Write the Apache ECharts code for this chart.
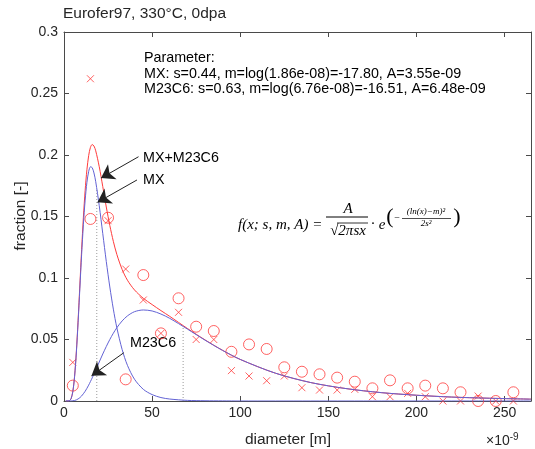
<!DOCTYPE html>
<html><head><meta charset="utf-8">
<script src="https://cdn.jsdelivr.net/npm/echarts@6/dist/echarts.min.js"></script>
<style>html,body{margin:0;padding:0;background:#fff}#c{width:535px;height:449px}</style>
</head><body><div id="c"></div>
<script>
// ---- data ----
const markerX = [5,15,25,35,45,55,65,75,85,95,105,115,125,135,145,155,165,175,185,195,205,215,225,235,245,255];
const circleY = [0.0125,0.148,0.149,0.0176,0.1024,0.055,0.0835,0.0604,0.0569,0.040,0.046,0.0423,0.0274,0.0238,0.0217,0.019,0.0157,0.0103,0.0168,0.0103,0.0125,0.0103,0.0071,0.0,0.0,0.0071];
const crossY  = [0.0314,0.262,0.1466,0.1073,0.0821,0.055,0.0721,0.050,0.050,0.0247,0.0203,0.0165,0.0203,0.0108,0.0089,0.0089,0.0095,0.0035,0.0035,0.0062,0.0035,0,0,0.004,0,0];
const curveX  = [1,2,3,4,5,6,7,8,9,10,11,12,13,14,15,16,17,18,20,22,24,26,28,30,33,36,40,45,50,55,60,70,80,90,100,120,140,160,180,200,220,240,265];
const mxY     = [0,0,0.0002,0.0018,0.0075,0.0197,0.0390,0.0639,0.0916,0.1190,0.1434,0.1633,0.1777,0.1866,0.1904,0.1897,0.1854,0.1783,0.1588,0.1361,0.1134,0.0927,0.0747,0.0595,0.0418,0.0290,0.0177,0.0095,0.0052,0.0028,0.0016,0.0005,0.0002,0.0001,0,0,0,0,0,0,0,0,0];
const m23Y    = [0,0,0,0,0.0002,0.0004,0.0009,0.0017,0.0027,0.0041,0.0059,0.0079,0.0103,0.0129,0.0158,0.0188,0.0219,0.0251,0.0317,0.0382,0.0443,0.0500,0.0551,0.0596,0.0651,0.0692,0.0726,0.0740,0.0732,0.0707,0.0672,0.0585,0.0495,0.0411,0.0338,0.0226,0.0150,0.0101,0.0068,0.0047,0.0032,0.0023,0.0015];
const sumY    = [0,0,0.0002,0.0018,0.0077,0.0201,0.0399,0.0656,0.0943,0.1231,0.1493,0.1712,0.1880,0.1995,0.2062,0.2085,0.2073,0.2034,0.1905,0.1743,0.1577,0.1427,0.1298,0.1191,0.1069,0.0982,0.0903,0.0835,0.0784,0.0735,0.0688,0.0590,0.0497,0.0412,0.0338,0.0226,0.0150,0.0101,0.0068,0.0047,0.0032,0.0023,0.0015];
const medianX = [18.6, 67.6];
const medianY = [0.1731, 0.0607];
const xTicks = [0,50,100,150,200,250];
const yTicks = [0,0.05,0.1,0.15,0.2,0.25,0.3];

const RED = '#ff3b3b', BLUE = '#6262d4', AX = '#4a4a4a', TXT = '#262626';
const SANS = '"Liberation Sans", Arial, sans-serif';
const SERIF = '"Liberation Serif", "Times New Roman", serif';
const zip = (a, b) => a.map((v, i) => [v, b[i]]);

const chart = echarts.init(document.getElementById('c'), null, {renderer: 'canvas'});
const axisCommon = {
  type: 'value', splitLine: {show: false},
  axisLine: {show: true, onZero: false, lineStyle: {color: AX, width: 1}},
  axisTick: {show: true, inside: true, length: 5, lineStyle: {color: AX}},
};
const option = {
  animation: false,
  backgroundColor: '#fff',
  grid: {left: 64, right: 4, top: 32, bottom: 48},
  xAxis: [
    Object.assign({}, axisCommon, {min: 0, max: 265, interval: 50, position: 'bottom',
      axisLabel: {color: TXT, fontSize: 14, fontFamily: SANS, margin: 5,
        formatter: v => xTicks.includes(v) ? String(v) : ''}}),
    Object.assign({}, axisCommon, {min: 0, max: 265, interval: 50, position: 'top', axisLabel: {show: false}})
  ],
  yAxis: [
    Object.assign({}, axisCommon, {min: 0, max: 0.3, interval: 0.05, position: 'left',
      axisLabel: {color: TXT, fontSize: 14, fontFamily: SANS, margin: 6,
        formatter: v => String(+v.toFixed(2))}}),
    Object.assign({}, axisCommon, {min: 0, max: 0.3, interval: 0.05, position: 'right', axisLabel: {show: false}})
  ],
  series: [
    {type: 'scatter', name: 'circles', data: zip(markerX, circleY), symbol: 'circle', symbolSize: 11,
      itemStyle: {color: 'rgba(0,0,0,0)', borderColor: RED, borderWidth: 1}, z: 3},
    {type: 'scatter', name: 'crosses', data: zip(markerX, crossY), symbol: 'path://M0,0L10,10M10,0L0,10', symbolSize: 7,
      itemStyle: {color: 'none', borderColor: RED, borderWidth: 1}, z: 3},
    {type: 'line', name: 'dot1', data: [[medianX[0], 0], [medianX[0], medianY[0]]], showSymbol: false,
      lineStyle: {color: '#9a9a9a', width: 1, type: [1, 2]}, z: 2},
    {type: 'line', name: 'dot2', data: [[medianX[1], 0], [medianX[1], medianY[1]]], showSymbol: false,
      lineStyle: {color: '#9a9a9a', width: 1, type: [1, 2]}, z: 2},
    {type: 'line', name: 'MX+M23C6', data: zip(curveX, sumY), showSymbol: false, smooth: 0.3,
      lineStyle: {color: RED, width: 1}, z: 4},
    {type: 'line', name: 'MX', data: zip(curveX, mxY), showSymbol: false, smooth: 0.3,
      lineStyle: {color: BLUE, width: 1}, z: 4},
    {type: 'line', name: 'M23C6', data: zip(curveX, m23Y), showSymbol: false, smooth: 0.3,
      lineStyle: {color: BLUE, width: 1}, z: 4},
    {type: 'line', name: 'arrows', data: [], z: 6,
      markLine: {silent: true, animation: false, symbol: ['none', 'arrow'], symbolSize: 13,
        label: {show: false}, lineStyle: {color: '#222', width: 1, type: 'solid'}, itemStyle: {color: '#000'},
        emphasis: {disabled: true},
        data: [
          [{coord: [42.3, 0.1986]}, {coord: [21.0, 0.1812]}],
          [{coord: [41.4, 0.1797]}, {coord: [19.0, 0.1615]}],
          [{coord: [34.0, 0.0393]}, {coord: [15.6, 0.0205]}]
        ]}}
  ],
  graphic: [
    {type: 'text', x: 63, y: 14, style: {text: 'Eurofer97, 330°C, 0dpa', fontSize: 15.5, fontFamily: SANS, fill: TXT, align: 'left', verticalAlign: 'middle'}},
    {type: 'text', x: 144, y: 58, style: {text: 'Parameter:', fontSize: 14.3, fontFamily: SANS, fill: '#000', align: 'left', verticalAlign: 'middle'}},
    {type: 'text', x: 144, y: 74, style: {text: 'MX: s=0.44, m=log(1.86e-08)=-17.80, A=3.55e-09', fontSize: 14.3, fontFamily: SANS, fill: '#000', align: 'left', verticalAlign: 'middle'}},
    {type: 'text', x: 144, y: 89, style: {text: 'M23C6: s=0.63, m=log(6.76e-08)=-16.51, A=6.48e-09', fontSize: 14.3, fontFamily: SANS, fill: '#000', align: 'left', verticalAlign: 'middle'}},
    {type: 'text', x: 143, y: 158, style: {text: 'MX+M23C6', fontSize: 14.3, fontFamily: SANS, fill: '#000', align: 'left', verticalAlign: 'middle'}},
    {type: 'text', x: 143, y: 180, style: {text: 'MX', fontSize: 14.3, fontFamily: SANS, fill: '#000', align: 'left', verticalAlign: 'middle'}},
    {type: 'text', x: 130, y: 343, style: {text: 'M23C6', fontSize: 14.3, fontFamily: SANS, fill: '#000', align: 'left', verticalAlign: 'middle'}},
    // axis names
    {type: 'text', x: 288, y: 440, style: {text: 'diameter [m]', fontSize: 15.5, fontFamily: SANS, fill: TXT, align: 'center', verticalAlign: 'middle'}},
    {type: 'text', x: 21, y: 216, rotation: Math.PI / 2, style: {text: 'fraction [-]', fontSize: 15.5, fontFamily: SANS, fill: TXT, align: 'center', verticalAlign: 'middle'}},
    {type: 'text', x: 486, y: 441, style: {text: '×10{s|-9}', fontSize: 14, fontFamily: SANS, fill: TXT, align: 'left', verticalAlign: 'middle',
      rich: {s: {fontSize: 10, fontFamily: SANS, fill: TXT, verticalAlign: 'top', padding: [0, 0, 8, 0]}}}},
    // formula
    {type: 'text', x: 238, y: 225, style: {text: 'f(x; s, m, A) =', fontSize: 15, fontStyle: 'italic', fontFamily: SERIF, fill: '#000', align: 'left', verticalAlign: 'middle'}},
    {type: 'text', x: 348, y: 209, style: {text: 'A', fontSize: 15, fontStyle: 'italic', fontFamily: SERIF, fill: '#000', align: 'center', verticalAlign: 'middle'}},
    {type: 'line', shape: {x1: 326, y1: 217, x2: 368, y2: 217}, style: {stroke: '#000', lineWidth: 1}},
    {type: 'text', x: 348, y: 231, style: {text: '√2πsx', fontSize: 15, fontStyle: 'italic', fontFamily: SERIF, fill: '#000', align: 'center', verticalAlign: 'middle'}},
    {type: 'line', shape: {x1: 337, y1: 223, x2: 368, y2: 223}, style: {stroke: '#000', lineWidth: 0.8}},
    {type: 'text', x: 373, y: 224, style: {text: '·', fontSize: 15, fontFamily: SERIF, fill: '#000', align: 'center', verticalAlign: 'middle'}},
    {type: 'text', x: 382, y: 225, style: {text: 'e', fontSize: 15, fontStyle: 'italic', fontFamily: SERIF, fill: '#000', align: 'center', verticalAlign: 'middle'}},
    {type: 'text', x: 390, y: 217, style: {text: '(', fontSize: 22, fontFamily: SERIF, fill: '#000', align: 'center', verticalAlign: 'middle'}},
    {type: 'text', x: 397, y: 218, style: {text: '−', fontSize: 10, fontFamily: SERIF, fill: '#000', align: 'center', verticalAlign: 'middle'}},
    {type: 'text', x: 426, y: 212, style: {text: '(ln(x)−m)²', fontSize: 9, fontStyle: 'italic', fontFamily: SERIF, fill: '#000', align: 'center', verticalAlign: 'middle'}},
    {type: 'line', shape: {x1: 402, y1: 218.5, x2: 451, y2: 218.5}, style: {stroke: '#000', lineWidth: 0.7}},
    {type: 'text', x: 426, y: 224, style: {text: '2s²', fontSize: 9, fontStyle: 'italic', fontFamily: SERIF, fill: '#000', align: 'center', verticalAlign: 'middle'}},
    {type: 'text', x: 457, y: 217, style: {text: ')', fontSize: 22, fontFamily: SERIF, fill: '#000', align: 'center', verticalAlign: 'middle'}}
  ]
};
chart.setOption(option);
</script></body></html>
